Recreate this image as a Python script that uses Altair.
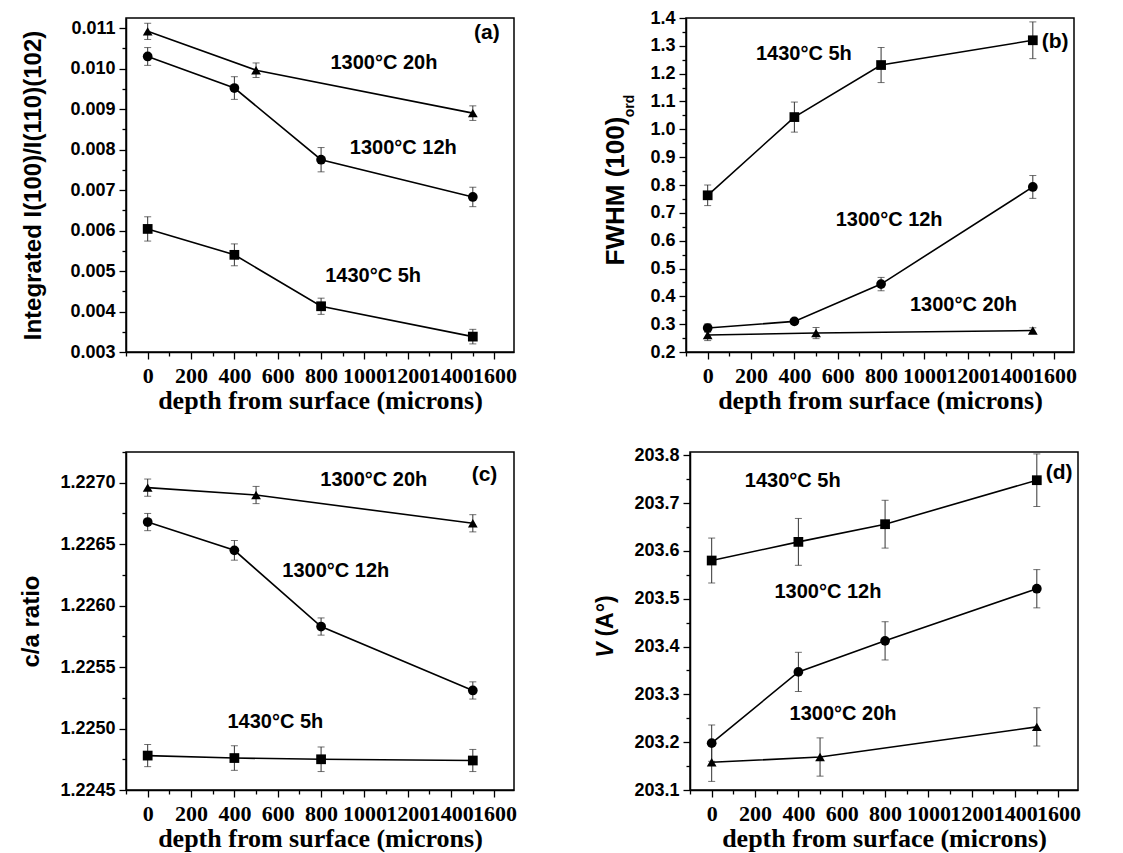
import altair as alt
import pandas as pd

# ---------------- data ----------------
depth_sq = [0, 400, 800, 1500]
depth_ci = [0, 400, 800, 1500]
depth_tri = [0, 500, 1500]
series_names = ["1430°C 5h", "1300°C 12h", "1300°C 20h"]

# (a) integrated intensity ratio
a_sq = [0.00604, 0.00540, 0.00413, 0.00338]
a_sq_err = [0.00030, 0.00027, 0.00020, 0.00018]
a_ci = [0.01030, 0.00952, 0.00775, 0.00683]
a_ci_err = [0.00022, 0.00028, 0.00030, 0.00024]
a_tri = [0.01092, 0.00996, 0.00890]
a_tri_err = [0.00020, 0.00018, 0.00018]

# (b) FWHM (100)ord
b_sq = [0.763, 1.044, 1.231, 1.320]
b_sq_err = [0.037, 0.054, 0.063, 0.066]
b_ci = [0.286, 0.310, 0.444, 0.793]
b_ci_err = [0.015, 0.010, 0.024, 0.041]
b_tri = [0.261, 0.268, 0.277]
b_tri_err = [0.020, 0.020, 0.010]

# (c) c/a ratio
c_sq = [1.22478, 1.22476, 1.22475, 1.22474]
c_sq_err = [0.00009, 0.00010, 0.00010, 0.00009]
c_ci = [1.22668, 1.22645, 1.22583, 1.22531]
c_ci_err = [0.00007, 0.00008, 0.00007, 0.00007]
c_tri = [1.22696, 1.22690, 1.22667]
c_tri_err = [0.00007, 0.00007, 0.00007]

# (d) cell volume
d_sq = [203.580, 203.619, 203.656, 203.748]
d_sq_err = [0.047, 0.049, 0.050, 0.055]
d_ci = [203.198, 203.347, 203.412, 203.521]
d_ci_err = [0.038, 0.041, 0.040, 0.040]
d_tri = [203.158, 203.169, 203.232]
d_tri_err = [0.040, 0.040, 0.040]

# annotation labels (series order: sq, ci, tri) in data coordinates
a_lab_x = [1040, 1179, 1090]
a_lab_y = [0.00487, 0.00804, 0.01014]
b_lab_x = [444, 837, 1180]
b_lab_y = [1.270, 0.675, 0.368]
c_lab_x = [589, 868, 1043]
c_lab_y = [1.22505, 1.22628, 1.22702]
d_lab_x = [374, 536, 606]
d_lab_y = [203.746, 203.515, 203.260]

letters = ["(a)", "(b)", "(c)", "(d)"]
letter_x = [1565, 1603, 1554, 1603]
letter_y = [0.01088, 1.312, 1.22706, 203.764]

x_ticks = [-100, 0, 100, 200, 300, 400, 500, 600, 700, 800, 900, 1000,
           1100, 1200, 1300, 1400, 1500, 1600]
a_ticks = [round(0.003 + 0.0005 * i, 5) for i in range(17)]
b_ticks = [round(0.2 + 0.05 * i, 3) for i in range(25)]
c_ticks = [round(1.2245 + 0.00025 * i, 6) for i in range(12)]
d_ticks = [round(203.1 + 0.05 * i, 3) for i in range(15)]

# ---------------- helpers ----------------
W = 388
H_TOP, H_BOT = 334, 338
XDOM = [-100, 1690]


def make_df(sq, sq_e, ci, ci_e, tri, tri_e):
    rows = []
    for name, xs, ys, es in [("sq", depth_sq, sq, sq_e),
                             ("ci", depth_ci, ci, ci_e),
                             ("tri", depth_tri, tri, tri_e)]:
        for x, y, e in zip(xs, ys, es):
            rows.append({"series": name, "depth": x, "val": y,
                         "lo": y - e, "hi": y + e})
    return pd.DataFrame(rows)


def major_test(step):
    return f"abs(datum.value/{step} - round(datum.value/{step})) < 1e-6"


def panel(df, ydom, yticks, ystep, yfmt, ytitle, ytp, lab_x, lab_y, letter,
          lx, ly, h, extra=None):
    xaxis = alt.Axis(
        values=x_ticks, format="d",
        labelExpr="(datum.value % 200 == 0 && datum.value >= 0) ? datum.label : ''",
        tickSize={"condition": {"test": "datum.value % 200 == 0", "value": 7}, "value": 4},
        title="depth from surface (microns)", labelOverlap=False, grid=False,
    )
    yaxis = alt.Axis(
        values=yticks, format=yfmt,
        labelExpr=f"({major_test(ystep)}) ? datum.label : ''",
        tickSize={"condition": {"test": major_test(ystep), "value": 7}, "value": 4},
        title=ytitle if ytitle else None, titlePadding=ytp,
        labelOverlap=False, grid=False,
    )
    xs = alt.Scale(domain=XDOM, nice=False, zero=False)
    ys = alt.Scale(domain=ydom, nice=False, zero=False)
    X = alt.X("depth:Q", scale=xs, axis=xaxis)
    Y = alt.Y("val:Q", scale=ys, axis=yaxis)

    base = alt.Chart(df)
    line = base.mark_line(color="black", strokeWidth=1.6).encode(
        x=X, y=Y, detail="series:N")
    rule = base.mark_rule(color="#333333", strokeWidth=1).encode(
        x=X, y=alt.Y("lo:Q", scale=ys, axis=yaxis), y2="hi:Q")
    cap_lo = base.mark_tick(color="#333333", thickness=1, size=7,
                            orient="horizontal").encode(
        x=X, y=alt.Y("lo:Q", scale=ys, axis=yaxis))
    cap_hi = base.mark_tick(color="#333333", thickness=1, size=7,
                            orient="horizontal").encode(
        x=X, y=alt.Y("hi:Q", scale=ys, axis=yaxis))
    pts = base.mark_point(filled=True, color="black", opacity=1, size=95).encode(
        x=X, y=Y,
        shape=alt.Shape("series:N",
                        scale=alt.Scale(domain=["sq", "ci", "tri"],
                                        range=["square", "circle", "triangle-up"]),
                        legend=None))
    lab_df = pd.DataFrame({"depth": lab_x, "val": lab_y, "label": series_names})
    labels = alt.Chart(lab_df).mark_text(
        font="Liberation Sans", fontWeight="bold", fontSize=20, color="black"
    ).encode(x=X, y=Y, text="label:N")
    let_df = pd.DataFrame({"depth": [lx], "val": [ly], "label": [letter]})
    let_t = alt.Chart(let_df).mark_text(
        font="Liberation Sans", fontWeight="bold", fontSize=21, color="black"
    ).encode(x=X, y=Y, text="label:N")
    layers = [rule, cap_lo, cap_hi, line, pts, labels, let_t]
    if extra:
        layers += extra
    return alt.layer(*layers).properties(width=W, height=h)


df_a = make_df(a_sq, a_sq_err, a_ci, a_ci_err, a_tri, a_tri_err)
df_b = make_df(b_sq, b_sq_err, b_ci, b_ci_err, b_tri, b_tri_err)
df_c = make_df(c_sq, c_sq_err, c_ci, c_ci_err, c_tri, c_tri_err)
df_d = make_df(d_sq, d_sq_err, d_ci, d_ci_err, d_tri, d_tri_err)


def vtext(t, x, y, size, style="normal"):
    return alt.Chart(pd.DataFrame({"t": [t]})).mark_text(
        font="Liberation Sans", fontWeight="bold", fontStyle=style,
        fontSize=size, angle=270, align="center", baseline="middle",
        color="black",
    ).encode(x=alt.value(x), y=alt.value(y), text="t:N")


# custom y titles with subscript / italic pieces
b_title = vtext("FWHM (100)", -70, 173, 26)
b_sub = vtext("ord", -56, 88, 14)
d_v = vtext("V", -84, 198, 23, "italic")
d_a = vtext("(A°)", -84, 164, 23)

pa = panel(df_a, [0.003, 0.01125], a_ticks, 0.001, ".3f",
           "Integrated I(100)/I(110)(102)", 24, a_lab_x, a_lab_y,
           letters[0], letter_x[0], letter_y[0], H_TOP)
pb = panel(df_b, [0.2, 1.4], b_ticks, 0.1, ".1f", None, 10, b_lab_x, b_lab_y,
           letters[1], letter_x[1], letter_y[1], H_TOP, extra=[b_title, b_sub])
pc = panel(df_c, [1.2245, 1.22725], c_ticks, 0.0005, ".4f", "c/a ratio", 16,
           c_lab_x, c_lab_y, letters[2], letter_x[2], letter_y[2], H_BOT)
pd_ = panel(df_d, [203.1, 203.807], d_ticks, 0.1, ".1f", None, 10, d_lab_x,
            d_lab_y, letters[3], letter_x[3], letter_y[3], H_BOT,
            extra=[d_v, d_a])

row1 = alt.hconcat(pa, pb, spacing=84)
row2 = alt.hconcat(pc, pd_, spacing=76)
chart = alt.vconcat(row1, row2, spacing=28).properties(
    padding={"left": 19, "top": 8, "right": 5, "bottom": 0},
    background="white",
).configure_view(
    stroke="black", strokeWidth=1.5
).configure_axis(
    domainColor="black", domainWidth=1.5, tickColor="black", tickWidth=1.3,
    labelColor="black", titleColor="black", labelPadding=4,
).configure_axisX(
    labelFont="Liberation Sans Narrow", labelFontWeight="bold", labelFontSize=22,
    titleFont="Liberation Serif", titleFontWeight="bold", titleFontSize=26,
    labelPadding=6, titlePadding=1,
).configure_axisY(
    labelFont="Liberation Sans", labelFontWeight="bold", labelFontSize=18,
    titleFont="Liberation Sans", titleFontWeight="bold", titleFontSize=24,
)

chart.save("out.html", embed_options={"renderer": "svg", "actions": False})
